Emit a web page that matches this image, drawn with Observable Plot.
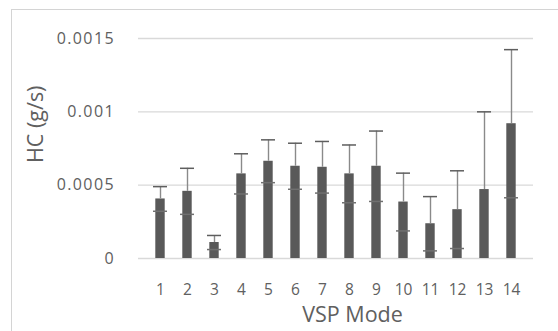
<!DOCTYPE html>
<html>
<head>
<meta charset="utf-8">
<script src="https://cdn.jsdelivr.net/npm/d3@7"></script>
<script src="https://cdn.jsdelivr.net/npm/@observablehq/plot@0.6"></script>
<style>
  html, body { margin: 0; padding: 0; background: #fff; }
  #wrap { position: relative; width: 558px; height: 331px; overflow: hidden; }
  #border { position: absolute; left: 11px; top: 9px; width: 700px; height: 500px; border: 1px solid #d4d4d4; pointer-events: none; }
  g[aria-label="y-axis tick label"] text { letter-spacing: 1.4px; }
</style>
</head>
<body>
<div id="wrap"><div id="border"></div></div>
<script>
const modes = ["1","2","3","4","5","6","7","8","9","10","11","12","13","14"];
const means = [0.000406,0.000458,0.000109,0.000577,0.000663,0.000629,0.000622,0.000577,0.000629,0.000385,0.000237,0.000333,0.00047,0.000919];
const errs  = [0.000084,0.000157,0.000048,0.000137,0.000146,0.000157,0.000176,0.000197,0.00024,0.000197,0.000185,0.000265,0.00053,0.000505];
const yTicks = [0, 0.0005, 0.001, 0.0015];
const yTickLabels = ["0", "0.0005", "0.001", "0.0015"];
const xTitle = "VSP Mode";
const yTitle = "HC (g/s)";

const data = modes.map((m, i) => ({mode: m, mean: means[i], hi: means[i] + errs[i], lo: means[i] - errs[i]}));
const lowCaps = data.filter(d => d.lo >= 0);

const chart = Plot.plot({
  width: 558,
  height: 331,
  marginLeft: 138,
  marginRight: 25,
  marginTop: 38,
  marginBottom: 73,
  style: {fontFamily: "'Open Sans', sans-serif", fontSize: "16px", color: "#606060", background: "transparent"},
  x: {domain: modes, padding: 0.5, label: null},
  y: {domain: [0, 0.0015], label: null},
  marks: [
    Plot.gridY(yTicks, {stroke: "#d9d9d9", strokeOpacity: 1, strokeWidth: 1.3}),
    Plot.barY(data, {x: "mode", y: "mean", fill: "#595959", insetLeft: 2.3, insetRight: 2.3}),
    Plot.ruleX(data, {x: "mode", y1: "mean", y2: "hi", stroke: "#8a8a8a", strokeWidth: 1.4}),
    Plot.tickY(data, {x: "mode", y: "hi", stroke: "#5e5e5e", strokeWidth: 1.5}),
    Plot.tickY(lowCaps, {x: "mode", y: "lo", stroke: "#707070", strokeWidth: 1.5}),
    Plot.axisY({ticks: yTicks, tickFormat: (d, i) => yTickLabels[i], tickSize: 0, tickPadding: 23.5, label: null, fontSize: 16}),
    Plot.axisX({tickSize: 0, tickPadding: 25, label: null, fontSize: 15.5}),
    Plot.text([xTitle], {frameAnchor: "bottom", dx: 16.5, dy: 63, fontSize: 21.5, fill: "#606060"}),
    Plot.text([yTitle], {frameAnchor: "left", rotate: -90, dx: -102.5, dy: 14.5, fontSize: 21.5, fill: "#606060"})
  ]
});
document.getElementById("wrap").prepend(chart);
</script>
</body>
</html>
